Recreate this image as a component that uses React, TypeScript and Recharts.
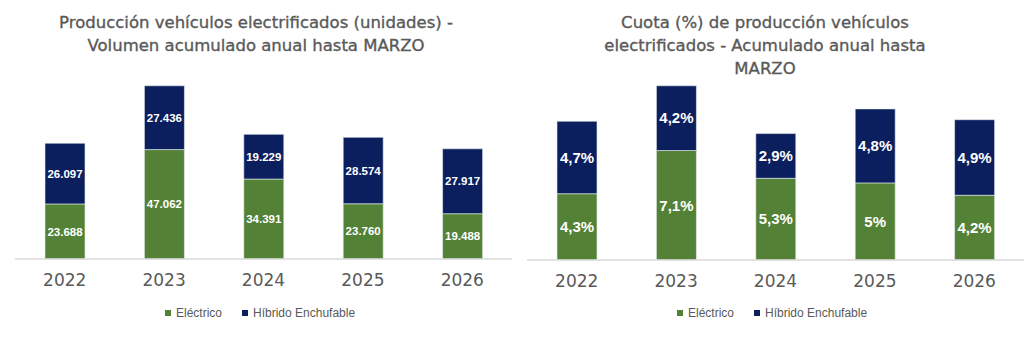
import React from "react";
import { BarChart, Bar, XAxis, YAxis, LabelList } from "recharts";

const years = ["2022", "2023", "2024", "2025", "2026"];
const electricoUnits = [23688, 47062, 34391, 23760, 19488];
const hibridoUnits = [26097, 27436, 19229, 28574, 27917];
const electricoShare = [4.3, 7.1, 5.3, 5, 4.2];
const hibridoShare = [4.7, 4.2, 2.9, 4.8, 4.9];

const GREEN = "#538135";
const NAVY = "#0b1f5e";
const GREY = "#595959";

const unitsData = years.map((y, i) => ({ year: y, e: electricoUnits[i], h: hibridoUnits[i] }));
const shareData = years.map((y, i) => ({ year: y, e: electricoShare[i], h: hibridoShare[i] }));

const fmtUnits = (v: any) => Number(v).toLocaleString("de-DE");
const fmtShare = (v: any) => String(v).replace(".", ",") + "%";

const YearTick = (props: any) => {
  const { x, y, payload } = props;
  return (
    <text x={x} y={y + 19} textAnchor="middle" fill={GREY} fontSize={17} fontFamily="DejaVu Sans" >
      {payload.value}
    </text>
  );
};

const LegendBox = ({ left }: { left: number }) => (
  <div style={{ position: "absolute", left, top: 306, display: "flex", alignItems: "center", fontFamily: "Liberation Sans", fontSize: 12, color: GREY, whiteSpace: "nowrap" }}>
    <span style={{ display: "inline-block", width: 6, height: 6, background: GREEN, marginRight: 5 }} />
    <span style={{ marginRight: 20 }}>Eléctrico</span>
    <span style={{ display: "inline-block", width: 6, height: 6, background: NAVY, marginRight: 5 }} />
    <span>Híbrido Enchufable</span>
  </div>
);

const titleStyle: React.CSSProperties = {
  position: "absolute",
  width: 512,
  textAlign: "center",
  fontFamily: "DejaVu Sans",
  fontSize: 16.5,
  lineHeight: "23px",
  color: GREY,
  WebkitTextStroke: "0.35px #595959",
};

export default function App() {
  return (
    <div style={{ position: "absolute", left: 0, top: 0, width: 1024, height: 338, background: "#fff", overflow: "hidden" }}>
      <div style={{ ...titleStyle, left: 0, top: 11 }}>
        Producción vehículos electrificados (unidades) -<br />Volumen acumulado anual hasta MARZO
      </div>
      <div style={{ ...titleStyle, left: 509, top: 11 }}>
        Cuota (%) de producción vehículos<br />electrificados - Acumulado anual hasta<br />MARZO
      </div>
      <div style={{ position: "absolute", left: 0, top: 0 }}>
        <BarChart width={512} height={338} data={unitsData} margin={{ top: 73, right: 0, bottom: 49, left: 15 }} barSize={40}>
          <XAxis dataKey="year" height={30} axisLine={{ stroke: "#d9d9d9", strokeWidth: 1.5 }} tickLine={false} tick={<YearTick />} interval={0} />
          <YAxis hide domain={[0, 80000]} />
          <Bar dataKey="e" stackId="a" fill={GREEN} stroke="#e8eef0" strokeWidth={0.6} isAnimationActive={false}>
            <LabelList dataKey="e" position="center" formatter={fmtUnits} fill="#fff" fontSize={11.5} fontWeight="bold" fontFamily="Liberation Sans" />
          </Bar>
          <Bar dataKey="h" stackId="a" fill={NAVY} stroke="#e8eef0" strokeWidth={0.6} isAnimationActive={false}>
            <LabelList dataKey="h" position="center" formatter={fmtUnits} fill="#fff" fontSize={11.5} fontWeight="bold" fontFamily="Liberation Sans" />
          </Bar>
        </BarChart>
      </div>
      <div style={{ position: "absolute", left: 512, top: 0 }}>
        <BarChart width={512} height={338} data={shareData} margin={{ top: 75, right: 0, bottom: 48, left: 15 }} barSize={40}>
          <XAxis dataKey="year" height={30} axisLine={{ stroke: "#d9d9d9", strokeWidth: 1.5 }} tickLine={false} tick={<YearTick />} interval={0} />
          <YAxis hide domain={[0, 12]} />
          <Bar dataKey="e" stackId="a" fill={GREEN} stroke="#e8eef0" strokeWidth={0.6} isAnimationActive={false}>
            <LabelList dataKey="e" position="center" formatter={fmtShare} fill="#fff" fontSize={15} fontWeight="bold" fontFamily="Liberation Sans" />
          </Bar>
          <Bar dataKey="h" stackId="a" fill={NAVY} stroke="#e8eef0" strokeWidth={0.6} isAnimationActive={false}>
            <LabelList dataKey="h" position="center" formatter={fmtShare} fill="#fff" fontSize={15} fontWeight="bold" fontFamily="Liberation Sans" />
          </Bar>
        </BarChart>
      </div>
      <LegendBox left={165} />
      <LegendBox left={677} />
    </div>
  );
}
